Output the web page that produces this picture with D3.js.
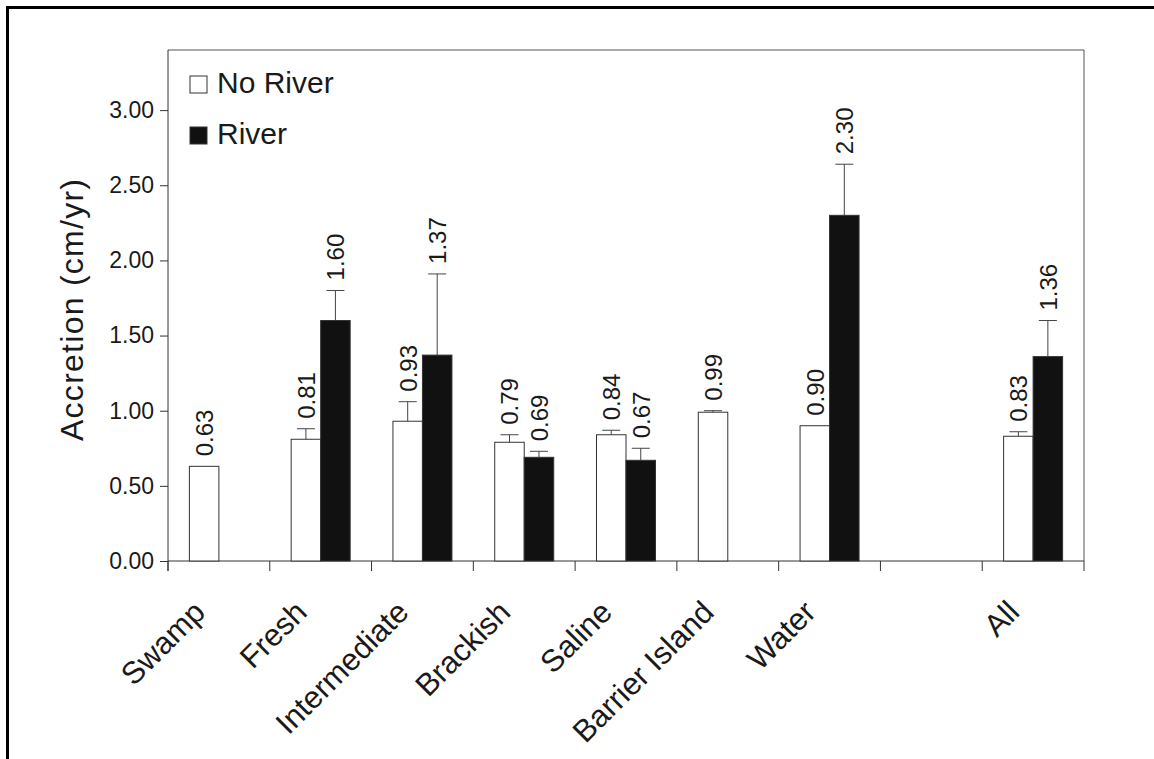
<!DOCTYPE html>
<html>
<head>
<meta charset="utf-8">
<script src="https://cdn.jsdelivr.net/npm/d3@7"></script>
<style>
    body { margin: 0; background: #fff; }
    #chart-area { width: 1154px; height: 759px; }
    text { font-family: "Liberation Sans", Arial, sans-serif; fill: #1a1a1a; }
</style>
</head>
<body>
<div id="chart-area"></div>
<script>
// values
const categories = ["Swamp", "Fresh", "Intermediate", "Brackish", "Saline", "Barrier Island", "Water", "", "All"];
const noRiver    = [0.63, 0.81, 0.93, 0.79, 0.84, 0.99, 0.90, null, 0.83];
const river      = [null, 1.60, 1.37, 0.69, 0.67, null, 2.30, null, 1.36];
const noRiverErr = [null, 0.07, 0.13, 0.05, 0.03, 0.01, null, null, 0.03];
const riverErr   = [null, 0.20, 0.54, 0.04, 0.08, null, 0.34, null, 0.24];
const yTicks     = [0, 0.5, 1, 1.5, 2, 2.5, 3];
const seriesNames = ["No River", "River"];

class AccretionChart {

    constructor(parentElement) {
        this.parentElement = parentElement;
        this.initVis();
    }

    initVis() {
        let vis = this;

        vis.width = 1154;
        vis.height = 759;
        vis.plot = {left: 168, right: 1084, top: 50, bottom: 561};

        vis.svg = d3.select("#" + vis.parentElement).append("svg")
            .attr("width", vis.width)
            .attr("height", vis.height);

        // scan border (only top and left survived)
        vis.svg.append("path")
            .attr("d", `M7.5,${vis.height} V7.5 H${vis.width}`)
            .attr("fill", "none")
            .attr("stroke", "#000")
            .attr("stroke-width", 3);

        // scales
        vis.x = d3.scaleBand()
            .domain(categories)
            .range([vis.plot.left, vis.plot.right]);
        vis.xSub = d3.scaleBand()
            .domain(seriesNames)
            .range([0, vis.x.bandwidth()])
            .paddingOuter(0.725);
        vis.y = d3.scaleLinear()
            .domain([0, 3.4])
            .range([vis.plot.bottom, vis.plot.top]);

        vis.wrangleData();
    }

    wrangleData() {
        let vis = this;
        vis.bars = [];
        categories.forEach((c, i) => {
            [[noRiver, noRiverErr], [river, riverErr]].forEach((s, j) => {
                if (s[0][i] == null) return;
                vis.bars.push({cat: c, series: seriesNames[j], value: s[0][i], err: s[1][i]});
            });
        });
        vis.updateVis();
    }

    updateVis() {
        let vis = this;
        let p = vis.plot;

        // plot frame, top and right
        vis.svg.append("path")
            .attr("d", `M${p.left},${p.top} H${p.right} V${p.bottom}`)
            .attr("fill", "none")
            .attr("stroke", "#555")
            .attr("stroke-width", 1);

        // y axis
        let yAxis = vis.svg.append("g")
            .attr("transform", `translate(${p.left},0)`)
            .call(d3.axisLeft(vis.y).tickValues(yTicks).tickFormat(d3.format(".2f")).tickSize(8).tickPadding(6));
        yAxis.select(".domain").attr("d", `M0,${p.top} V${p.bottom + 10}`).attr("stroke", "#333");
        yAxis.selectAll(".tick line").attr("stroke", "#333");
        yAxis.selectAll("text")
            .attr("font-size", 23)
            .attr("font-family", '"Liberation Sans", Arial, sans-serif')
            .attr("fill", "#1a1a1a");

        vis.svg.append("text")
            .attr("transform", `translate(83,310) rotate(-90)`)
            .attr("text-anchor", "middle")
            .attr("font-size", 32)
            .attr("textLength", 262)
            .attr("lengthAdjust", "spacing")
            .text("Accretion (cm/yr)");

        // x axis line and ticks at the band edges
        vis.svg.append("line")
            .attr("x1", p.left).attr("x2", p.right)
            .attr("y1", p.bottom).attr("y2", p.bottom)
            .attr("stroke", "#333");
        let edges = categories.map(c => vis.x(c)).concat([vis.x.range()[1]]);
        vis.svg.selectAll(".xtick")
            .data(edges)
            .enter()
            .append("line")
            .attr("class", "xtick")
            .attr("x1", d => d).attr("x2", d => d)
            .attr("y1", p.bottom).attr("y2", p.bottom + 10)
            .attr("stroke", "#333");

        vis.svg.selectAll(".xlabel")
            .data(categories)
            .enter()
            .append("text")
            .attr("class", "xlabel")
            .attr("text-anchor", "end")
            .attr("font-size", 31)
            .attr("transform", d => `translate(${vis.x(d) + vis.x.bandwidth() / 2 - 12},614) rotate(-45)`)
            .text(d => d);

        // bars
        let barX = d => vis.x(d.cat) + vis.xSub(d.series);
        let bw = vis.xSub.bandwidth();

        vis.svg.selectAll(".bar")
            .data(vis.bars)
            .enter()
            .append("rect")
            .attr("class", "bar")
            .attr("x", barX)
            .attr("width", bw)
            .attr("y", d => vis.y(d.value))
            .attr("height", d => vis.y(0) - vis.y(d.value))
            .attr("fill", d => d.series === "River" ? "#111" : "#fff")
            .attr("stroke", "#333")
            .attr("stroke-width", 1);

        // upper error bars
        let withErr = vis.bars.filter(d => d.err != null);
        vis.svg.selectAll(".err")
            .data(withErr)
            .enter()
            .append("path")
            .attr("class", "err")
            .attr("d", d => {
                let cx = barX(d) + bw / 2;
                let y0 = vis.y(d.value), y1 = vis.y(d.value + d.err);
                return `M${cx},${y0} V${y1} M${cx - 9},${y1} H${cx + 9}`;
            })
            .attr("fill", "none")
            .attr("stroke", "#444")
            .attr("stroke-width", 1);

        // value labels
        vis.svg.selectAll(".val")
            .data(vis.bars)
            .enter()
            .append("text")
            .attr("class", "val")
            .attr("font-size", 24)
            .attr("transform", d => {
                let top = vis.y(d.value + (d.err || 0)) - 10;
                return `translate(${barX(d) + bw / 2 + 9},${top}) rotate(-90)`;
            })
            .text(d => d3.format(".2f")(d.value));

        // legend
        let legend = vis.svg.selectAll(".legend")
            .data(seriesNames)
            .enter()
            .append("g")
            .attr("class", "legend")
            .attr("transform", (d, i) => `translate(190,${76 + i * 51})`);
        legend.append("rect")
            .attr("width", 17).attr("height", 17)
            .attr("fill", d => d === "River" ? "#111" : "#fff")
            .attr("stroke", "#333");
        legend.append("text")
            .attr("x", 27).attr("y", 17)
            .attr("font-size", 30)
            .text(d => d);
    }
}

new AccretionChart("chart-area");
</script>
</body>
</html>
